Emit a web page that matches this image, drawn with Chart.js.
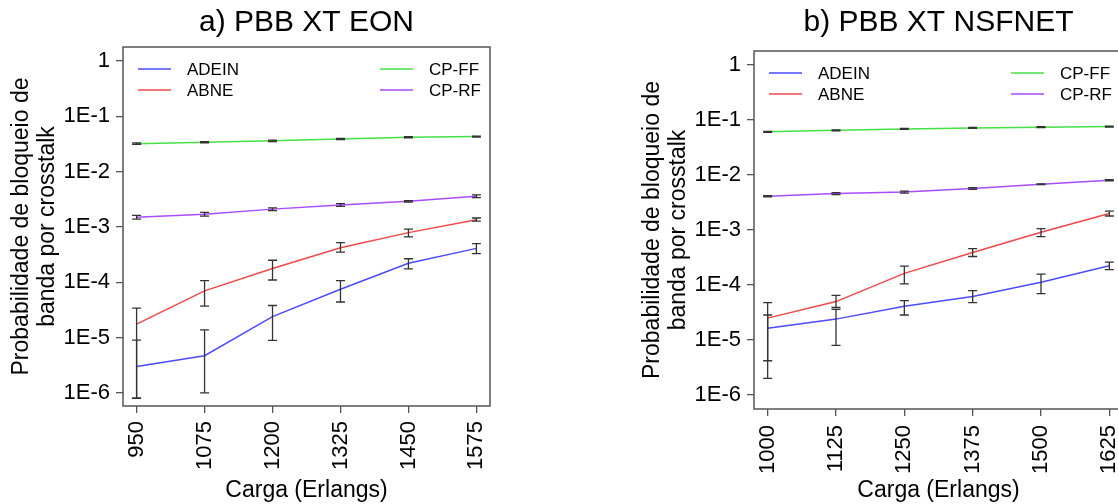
<!DOCTYPE html>
<html><head><meta charset="utf-8">
<script src="https://cdn.jsdelivr.net/npm/chart.js@4/dist/chart.umd.min.js"></script>
<style>
html,body{margin:0;padding:0;background:#fff;width:1118px;height:504px;overflow:hidden;position:relative}
canvas{position:absolute;top:0}
#c1{left:0}
#c2{left:631px}
</style></head><body>
<canvas id="c1" width="560" height="504"></canvas>
<canvas id="c2" width="560" height="504"></canvas>
<script>
// ---------- data ----------
const seriesNames = ['ADEIN', 'ABNE', 'CP-FF', 'CP-RF'];
const seriesColors = ['#4b4bff', '#f04848', '#44e044', '#a64dff'];
const yTickValues = [1e-6, 1e-5, 1e-4, 1e-3, 1e-2, 1e-1, 1];
const yTickLabels = ['1E-6', '1E-5', '1E-4', '1E-3', '1E-2', '1E-1', '1'];
const panelTitles = ['a) PBB XT EON', 'b) PBB XT NSFNET'];
const yAxisTitle = ['Probabilidade de bloqueio de', 'banda por crosstalk'];
const xAxisTitle = 'Carga (Erlangs)';

// a) EON
const eonLoad = [950, 1075, 1200, 1325, 1450, 1575];
const eonAdein     = [3.0e-6, 4.7e-6, 2.4e-5, 7.5e-5, 2.2e-4, 4.1e-4];
const eonAdeinLow  = [8.0e-7, 1.0e-6, 8.9e-6, 4.4e-5, 1.74e-4, 3.3e-4];
const eonAdeinHigh = [9.0e-6, 1.38e-5, 3.8e-5, 1.07e-4, 2.66e-4, 5.0e-4];
const eonAbne      = [1.75e-5, 7.0e-5, 1.78e-4, 4.2e-4, 7.9e-4, 1.35e-3];
const eonAbneLow   = [8.0e-7, 3.7e-5, 1.1e-4, 3.5e-4, 6.6e-4, 1.27e-3];
const eonAbneHigh  = [3.4e-5, 1.07e-4, 2.5e-4, 5.2e-4, 9.1e-4, 1.45e-3];
const eonCpff      = [0.032, 0.034, 0.036, 0.039, 0.042, 0.043];
const eonCpffLow   = [0.0310, 0.0330, 0.0350, 0.0380, 0.0410, 0.0420];
const eonCpffHigh  = [0.0330, 0.0350, 0.0370, 0.0400, 0.0430, 0.0440];
const eonCprf      = [0.0015, 0.0017, 0.0021, 0.0025, 0.0029, 0.0036];
const eonCprfLow   = [0.00138, 0.00157, 0.00198, 0.00236, 0.00280, 0.00340];
const eonCprfHigh  = [0.00162, 0.00183, 0.00222, 0.00264, 0.00300, 0.00380];

// b) NSFNET
const nsfLoad = [1000, 1125, 1250, 1375, 1500, 1625];
const nsfAdein     = [1.63e-5, 2.4e-5, 4.1e-5, 6.2e-5, 1.12e-4, 2.24e-4];
const nsfAdeinLow  = [4.2e-6, 8.0e-6, 2.85e-5, 4.8e-5, 7.0e-5, 1.9e-4];
const nsfAdeinHigh = [2.85e-5, 3.6e-5, 5.2e-5, 7.9e-5, 1.58e-4, 2.6e-4];
const nsfAbne      = [2.5e-5, 5.0e-5, 1.63e-4, 3.9e-4, 9.1e-4, 2.0e-3];
const nsfAbneLow   = [2.0e-6, 3.9e-5, 1.05e-4, 3.3e-4, 7.6e-4, 1.8e-3];
const nsfAbneHigh  = [4.8e-5, 6.5e-5, 2.2e-4, 4.6e-4, 1.06e-3, 2.2e-3];
const nsfCpff      = [0.061, 0.065, 0.069, 0.072, 0.074, 0.076];
const nsfCpffLow   = [0.0598, 0.0637, 0.0676, 0.0706, 0.0725, 0.0745];
const nsfCpffHigh  = [0.0622, 0.0663, 0.0704, 0.0734, 0.0755, 0.0775];
const nsfCprf      = [0.0041, 0.0046, 0.0049, 0.0057, 0.0068, 0.0080];
const nsfCprfLow   = [0.0040, 0.0044, 0.0047, 0.0055, 0.0067, 0.0078];
const nsfCprfHigh  = [0.0042, 0.0048, 0.0051, 0.0059, 0.0069, 0.0082];

// ---------- rendering ----------
Chart.defaults.font.family = "'Liberation Sans', Arial, sans-serif";
Chart.defaults.color = '#000';

const errorBarPlugin = {
  id: 'errorBars',
  afterDatasetsDraw(chart) {
    const {ctx, scales: {x, y}} = chart;
    ctx.save();
    ctx.strokeStyle = '#333';
    ctx.lineWidth = 1.3;
    const cap = 4.5;
    chart.data.datasets.forEach(ds => {
      ds.data.forEach((pt, i) => {
        const px = x.getPixelForValue(pt.x);
        const lo = y.getPixelForValue(ds.errLow[i]);
        const hi = y.getPixelForValue(ds.errHigh[i]);
        ctx.beginPath();
        ctx.moveTo(px, lo); ctx.lineTo(px, hi);
        ctx.moveTo(px - cap, lo); ctx.lineTo(px + cap, lo);
        ctx.moveTo(px - cap, hi); ctx.lineTo(px + cap, hi);
        ctx.stroke();
      });
    });
    ctx.restore();
  }
};

const boxPlugin = {
  id: 'plotBox',
  afterDraw(chart) {
    const a = chart.chartArea, ctx = chart.ctx;
    ctx.save();
    ctx.strokeStyle = '#555';
    ctx.lineWidth = 1.5;
    ctx.strokeRect(a.left, a.top, a.right - a.left, a.bottom - a.top);
    ctx.restore();
  }
};

const insideLegendPlugin = {
  id: 'insideLegend',
  afterDraw(chart) {
    const a = chart.chartArea, ctx = chart.ctx;
    const colX = [15, 257], rowY = [22, 43];
    ctx.save();
    ctx.font = "17px 'Liberation Sans', Arial, sans-serif";
    ctx.textBaseline = 'middle';
    ctx.fillStyle = '#000';
    chart.data.datasets.forEach((ds, i) => {
      const x0 = a.left + colX[i < 2 ? 0 : 1];
      const y0 = a.top + rowY[i % 2];
      ctx.strokeStyle = ds.borderColor;
      ctx.lineWidth = 1.5;
      ctx.beginPath(); ctx.moveTo(x0, y0); ctx.lineTo(x0 + 33, y0); ctx.stroke();
      ctx.fillText(ds.label, x0 + 49, y0 + 1);
    });
    ctx.restore();
  }
};

function makeDataset(i, loads, vals, lows, highs) {
  return {
    label: seriesNames[i],
    data: loads.map((x, k) => ({x: x, y: vals[k]})),
    errLow: lows, errHigh: highs,
    borderColor: seriesColors[i],
    backgroundColor: seriesColors[i],
    borderWidth: 1.5,
    pointRadius: 0,
    tension: 0,
    fill: false
  };
}

function makeChart(id, cfg) {
  return new Chart(document.getElementById(id), {
    type: 'line',
    data: {datasets: cfg.datasets},
    options: {
      responsive: false,
      animation: false,
      devicePixelRatio: 1,
      layout: {padding: {left: 0, right: cfg.padRight, top: 0, bottom: 0}},
      plugins: {
        legend: {display: false},
        tooltip: {enabled: false},
        title: {
          display: true, text: cfg.title, fullSize: false, color: '#000',
          font: {size: 30, weight: 'normal', lineHeight: 1.2},
          padding: {top: 4.5, bottom: cfg.titlePadBottom}
        }
      },
      scales: {
        x: {
          type: 'linear', min: cfg.xMin, max: cfg.xMax, bounds: 'data',
          afterBuildTicks: s => { s.ticks = cfg.loads.map(v => ({value: v})); },
          afterFit: s => { s.height = cfg.xAxisHeight; },
          ticks: {
            autoSkip: false, minRotation: 90, maxRotation: 90,
            font: {size: 22}, color: '#000', padding: cfg.xTickPad,
            callback: v => String(v)
          },
          grid: {drawOnChartArea: false, drawTicks: true, tickLength: 7, color: '#555', lineWidth: 1.3},
          border: {display: false},
          title: {display: true, text: xAxisTitle, color: '#000', font: {size: 23, lineHeight: 1.2}, padding: {top: 0, bottom: 0}}
        },
        y: {
          type: 'logarithmic', min: cfg.yMin, max: cfg.yMax, bounds: 'data',
          afterBuildTicks: s => { s.ticks = yTickValues.map(v => ({value: v})); },
          afterFit: s => { s.width = 123; },
          ticks: {
            autoSkip: false, font: {size: 22}, color: '#000', padding: 6,
            callback: v => { const k = yTickValues.findIndex(t => Math.abs(Math.log10(t) - Math.log10(v)) < 1e-6); return k >= 0 ? yTickLabels[k] : ''; }
          },
          grid: {drawOnChartArea: false, drawTicks: true, tickLength: 7, color: '#555', lineWidth: 1.3},
          border: {display: false},
          title: {display: true, text: yAxisTitle, color: '#000', font: {size: 23, lineHeight: 1.1}, padding: {top: 9.4, bottom: 0}}
        }
      }
    },
    plugins: [errorBarPlugin, boxPlugin, insideLegendPlugin]
  });
}

makeChart('c1', {
  title: panelTitles[0], loads: eonLoad, xMin: 925, xMax: 1600,
  yMin: 5.8e-7, yMax: 1.79, padRight: 70, titlePadBottom: 6.5,
  xAxisHeight: 98, xTickPad: 8,
  datasets: [
    makeDataset(0, eonLoad, eonAdein, eonAdeinLow, eonAdeinHigh),
    makeDataset(1, eonLoad, eonAbne, eonAbneLow, eonAbneHigh),
    makeDataset(2, eonLoad, eonCpff, eonCpffLow, eonCpffHigh),
    makeDataset(3, eonLoad, eonCprf, eonCprfLow, eonCprfHigh)
  ]
});

makeChart('c2', {
  title: panelTitles[1], loads: nsfLoad, xMin: 975, xMax: 1650,
  yMin: 5.57e-7, yMax: 1.8, padRight: 68, titlePadBottom: 10.5,
  xAxisHeight: 95, xTickPad: 9,
  datasets: [
    makeDataset(0, nsfLoad, nsfAdein, nsfAdeinLow, nsfAdeinHigh),
    makeDataset(1, nsfLoad, nsfAbne, nsfAbneLow, nsfAbneHigh),
    makeDataset(2, nsfLoad, nsfCpff, nsfCpffLow, nsfCpffHigh),
    makeDataset(3, nsfLoad, nsfCprf, nsfCprfLow, nsfCprfHigh)
  ]
});
</script>
</body></html>
